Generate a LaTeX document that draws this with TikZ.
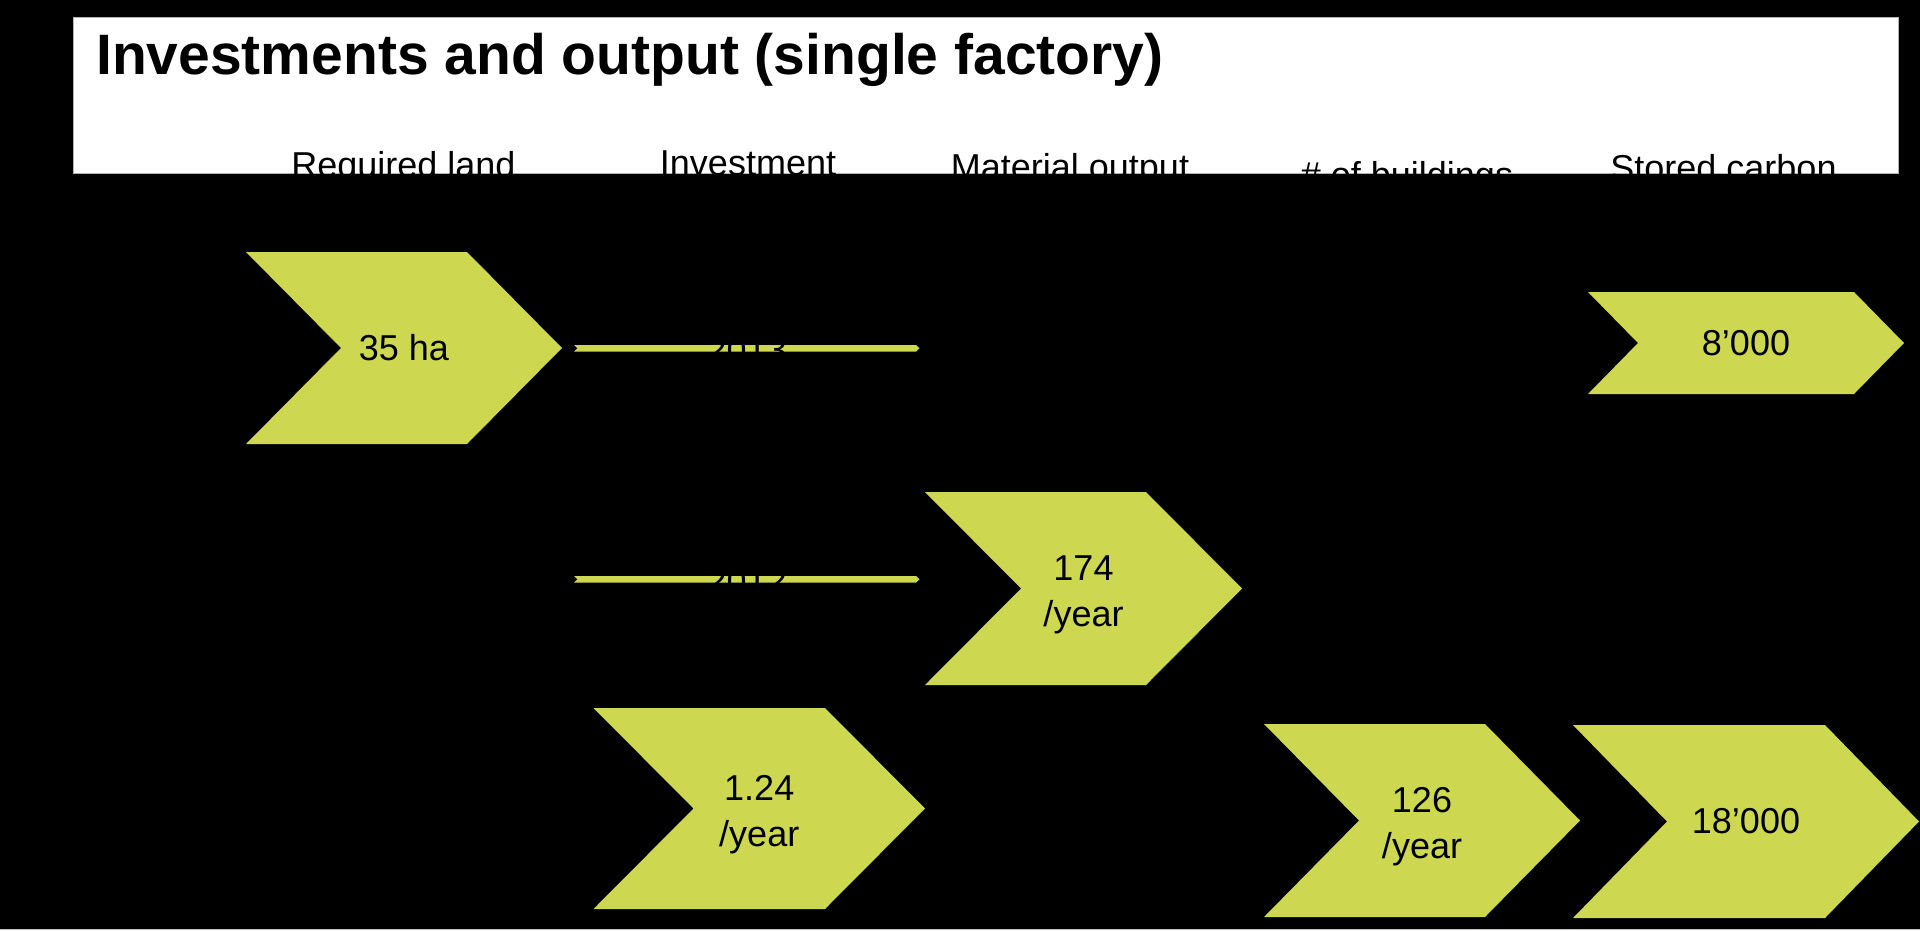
\documentclass[tikz,border=0pt]{standalone}
\usepackage{fontspec}
\setmainfont{Liberation Sans}
\definecolor{chev}{RGB}{205,215,80}
\newcommand\chev[8][]{%
  \fill[chev] (#3,#5) -- ({#4-#7},#5) -- (#4,{(#5+#6)/2}) -- ({#4-#7},#6) -- (#3,#6) -- ({#3+#7},{(#5+#6)/2}) -- cycle;
  \node[valtext,#1] (#2) at ({(#3+#4)/2},{(#5+#6)/2}) {#8};
}
\newcommand\thinbar[4]{% name, xl, xr, y
  \fill[chev] (#2,{#4-3.3}) -- ({#3-3.5},{#4-3.3}) -- (#3,#4) -- ({#3-3.5},{#4+3.3}) -- (#2,{#4+3.3}) -- ({#2+3.5},#4) -- cycle;
  \coordinate (#1) at ({(#2+#3)/2},#4);
}
\begin{document}
\begin{tikzpicture}[x=1pt,y=-1pt,
  valtext/.style={font=\fontsize{36}{46}\selectfont, align=center, text=black, inner sep=0pt},
  twoline/.style={yshift=-6pt},
  headtext/.style={font=\fontsize{36}{43}\selectfont, anchor=base, inner sep=0pt, text=black},
  bartext/.style={font=\fontsize{36}{43}\selectfont, anchor=base, inner sep=0pt, text=black}
]
\fill[black] (0,0) rectangle (1920,930);
\useasboundingbox (0,0) rectangle (1920,930);
\draw[gray!50, line width=1pt] (0,929) -- (1920,929);
\filldraw[fill=white, draw=gray!60, line width=1pt] (73.3,17.3) rectangle (1898.3,173.3);

\node[anchor=base west, inner sep=0pt, font=\fontsize{57}{68}\selectfont\bfseries] (title) at (96,74) {Investments and output (single factory)};

\node[headtext] (h1) at (403.5,177.5) {Required land};
\node[headtext] (h2) at (748,175.8) {Investment};
\node[headtext] (h3) at (1070,179.8) {Material output};
\node[headtext] (h4) at (1407,187.5) {\# of buildings};
\node[headtext] (h5) at (1723.5,180.8) {Stored carbon};

\chev{land}{246}{562}{252}{444}{95}{35 ha}
\chev{carbonA}{1588}{1904}{292}{394}{50}{8’000}
\chev[twoline]{output}{925}{1242}{492}{685}{96}{174\\/year}
\chev[twoline]{invest}{593.5}{925}{708}{909}{100}{1.24\\/year}
\chev[twoline]{build}{1264}{1580}{724}{917}{95}{126\\/year}
\chev{carbonB}{1573}{1919}{725}{918}{94}{18’000}

\thinbar{bar1}{574}{919.5}{348.3}
\thinbar{bar2}{574}{919.5}{579.3}
\node[bartext] (lab1) at ([yshift=-14.5pt]bar1) {2013};
\node[bartext] (lab2) at ([yshift=-14.5pt]bar2) {2012};
\end{tikzpicture}
\end{document}
